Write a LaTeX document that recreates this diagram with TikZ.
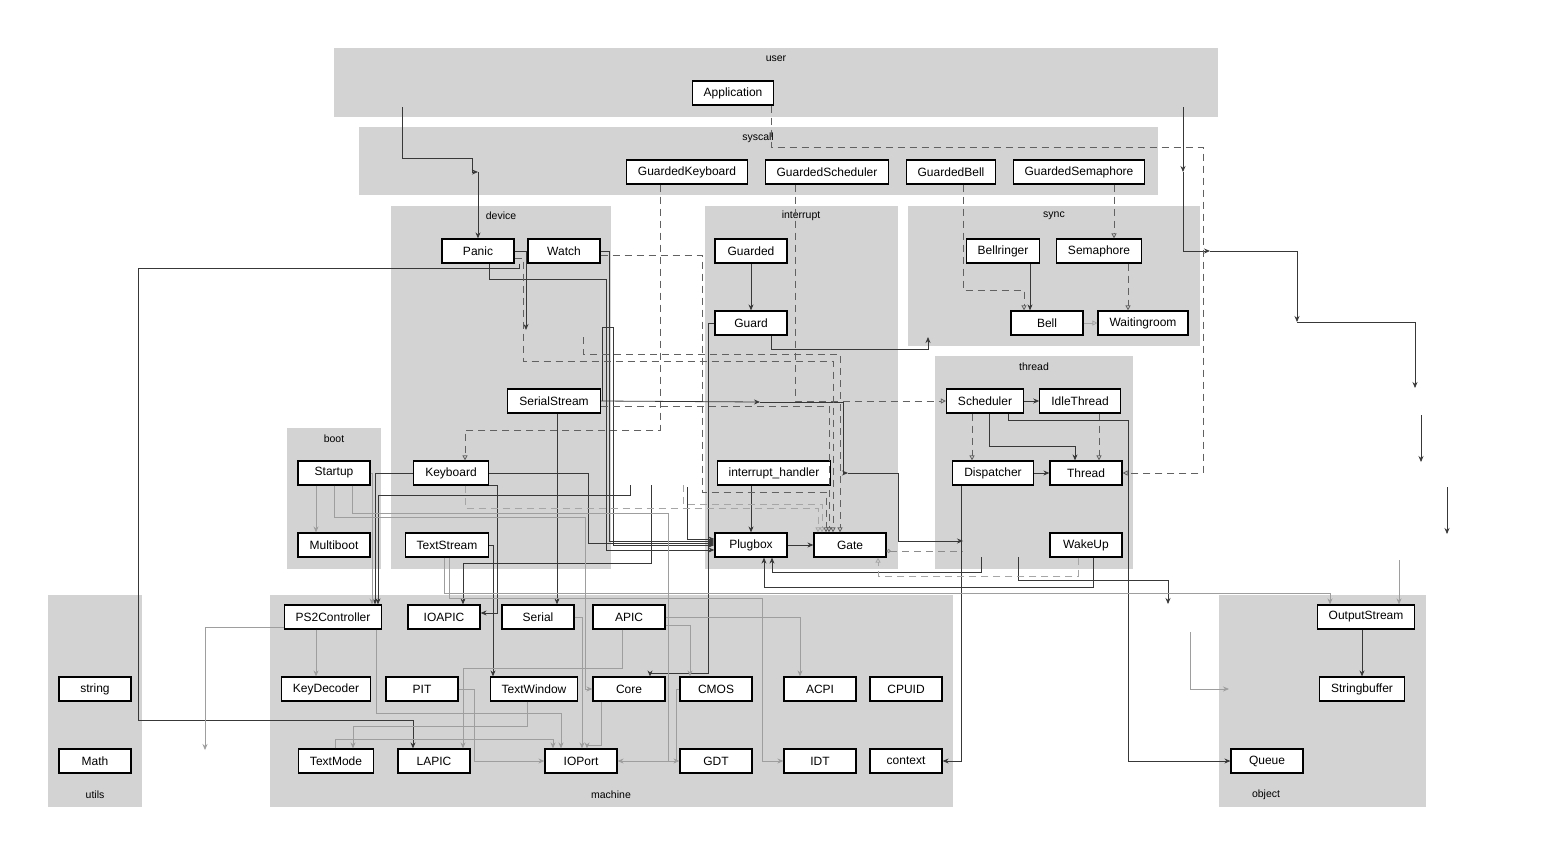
\documentclass[tikz,border=0pt]{standalone}
\usepackage{fontspec}
\setmainfont{Liberation Sans}
\usetikzlibrary{arrows.meta}
\definecolor{paketgrau}{HTML}{D3D3D3}

\begin{document}
\begin{tikzpicture}[x=1pt, y=-1pt,
    every node/.style={font=\fontsize{12}{14}\selectfont},
    klasse/.style={draw=black, line width=1.2pt, fill=white, minimum width=72pt, minimum height=24pt, inner xsep=11.5pt, inner ysep=0pt},
    paket/.style={fill=paketgrau},
    paketname/.style={font=\fontsize{10.5}{12}\selectfont},
    ref/.style={draw=black!78, line width=0.8pt, -{Stealth[length=6pt,width=5pt]}},
    grau/.style={draw=black!38, line width=0.8pt, -{Stealth[length=6pt,width=5pt]}},
    real/.style={draw=black!62, line width=0.8pt, dash pattern=on 7pt off 5pt, -{Triangle[open,length=5pt,width=5pt]}},
    realgrau/.style={real, draw=black!35}]

    % Hintergrund
    \fill[white] (0,0) rectangle (1565,857);
    \useasboundingbox (0,0) rectangle (1565,857);

    % Pakete
    \fill[paket] (334,48) rectangle (1218,117);
    \fill[paket] (359,127) rectangle (1158,195);
    \fill[paket] (391,206) rectangle (611,569);
    \fill[paket] (705,206) rectangle (898,569);
    \fill[paket] (908,206) rectangle (1200,346);
    \fill[paket] (935,356) rectangle (1133,569);
    \fill[paket] (287,428) rectangle (381,569);
    \fill[paket] (48,595) rectangle (142,807);
    \fill[paket] (270,595) rectangle (953,807);
    \fill[paket] (1219,595) rectangle (1426,807);

    \node[paketname] (puser) at (776,59) {user};
    \node[paketname] (psyscall) at (758,138) {syscall};
    \node[paketname] (pdevice) at (501,216) {device};
    \node[paketname] (pinterrupt) at (801,216) {interrupt};
    \node[paketname] (psync) at (1054,216) {sync};
    \node[paketname] (pthread) at (1034,367) {thread};
    \node[paketname] (pboot) at (334,439) {boot};
    \node[paketname] (putils) at (95,795) {utils};
    \node[paketname] (pmachine) at (611,795) {machine};
    \node[paketname] (pobject) at (1266,795) {object};

    % Klassen
    \node[klasse] (app) at (733,93) {Application};
    \node[klasse] (gkeyboard) at (687,172) {GuardedKeyboard};
    \node[klasse] (gscheduler) at (827,172) {GuardedScheduler};
    \node[klasse] (gbell) at (951,172) {GuardedBell};
    \node[klasse] (gsemaphore) at (1079,172) {GuardedSemaphore};
    \node[klasse] (panic) at (478,251) {Panic};
    \node[klasse] (watch) at (564,251) {Watch};
    \node[klasse] (guarded) at (751,251) {Guarded};
    \node[klasse] (bellringer) at (1003,251) {Bellringer};
    \node[klasse] (semaphore) at (1099,251) {Semaphore};
    \node[klasse] (guard) at (751,323) {Guard};
    \node[klasse] (bell) at (1047,323) {Bell};
    \node[klasse] (waitingroom) at (1143,323) {Waitingroom};
    \node[klasse] (serialstream) at (554,401) {SerialStream};
    \node[klasse] (scheduler) at (985,401) {Scheduler};
    \node[klasse] (idlethread) at (1080,401) {IdleThread};
    \node[klasse] (startup) at (334,473) {Startup};
    \node[klasse] (keyboard) at (451,473) {Keyboard};
    \node[klasse] (handler) at (774,473) {interrupt\_handler};
    \node[klasse] (dispatcher) at (993,473) {Dispatcher};
    \node[klasse] (thread) at (1086,473) {Thread};
    \node[klasse] (multiboot) at (334,545) {Multiboot};
    \node[klasse] (textstream) at (447,545) {TextStream};
    \node[klasse] (plugbox) at (751,545) {Plugbox};
    \node[klasse] (gate) at (850,545) {Gate};
    \node[klasse] (wakeup) at (1086,545) {WakeUp};
    \node[klasse] (ps2) at (333,617) {PS2Controller};
    \node[klasse] (ioapic) at (444,617) {IOAPIC};
    \node[klasse] (serial) at (538,617) {Serial};
    \node[klasse] (apic) at (629,617) {APIC};
    \node[klasse] (outputstream) at (1366,617) {OutputStream};
    \node[klasse] (string) at (95,689) {string};
    \node[klasse] (keydecoder) at (326,689) {KeyDecoder};
    \node[klasse] (pit) at (422,689) {PIT};
    \node[klasse] (textwindow) at (534,689) {TextWindow};
    \node[klasse] (core) at (629,689) {Core};
    \node[klasse] (cmos) at (716,689) {CMOS};
    \node[klasse] (acpi) at (820,689) {ACPI};
    \node[klasse] (cpuid) at (906,689) {CPUID};
    \node[klasse] (stringbuffer) at (1362,689) {Stringbuffer};
    \node[klasse] (math) at (95,761) {Math};
    \node[klasse] (textmode) at (336,761) {TextMode};
    \node[klasse] (lapic) at (434,761) {LAPIC};
    \node[klasse] (ioport) at (581,761) {IOPort};
    \node[klasse] (gdt) at (716,761) {GDT};
    \node[klasse] (idt) at (820,761) {IDT};
    \node[klasse] (context) at (906,761) {context};
    \node[klasse] (queue) at (1267,761) {Queue};

    % freie Enden
    \coordinate (uaus1) at (402,107);
    \coordinate (kpanic) at (478,172);
    \coordinate (uaus2) at (1183,107);
    \coordinate (kr1) at (1183,172);
    \coordinate (kr2) at (1210,251);
    \coordinate (kr3) at (1297,322);
    \coordinate (kr4) at (1415,388);
    \coordinate (kr5) at (1421,415);
    \coordinate (kr6) at (1421,462);
    \coordinate (kr7) at (1447,487);
    \coordinate (kr8) at (1447,534);
    \coordinate (kr9) at (1399,560);
    \coordinate (syncein) at (928,337);
    \coordinate (pfrei) at (526,330);
    \coordinate (sfrei1) at (760,402);
    \coordinate (sfrei2) at (848,473);
    \coordinate (tfrei1) at (963,541);
    \coordinate (tfrei2) at (963,551);
    \coordinate (tfrei3) at (981,557);
    \coordinate (tfrei4) at (1018,557);
    \coordinate (tfrei5) at (1168,604);
    \coordinate (kfrei1) at (630,485);
    \coordinate (kfrei2) at (651,485);
    \coordinate (kfrei3) at (687,487);
    \coordinate (dfrei1) at (583,337);
    \coordinate (dfrei2) at (683,485);
    \coordinate (ofrei1) at (1190,632);
    \coordinate (ofrei2) at (1229,689);
    \coordinate (mfrei) at (205,750);

    % user und rechte Kette
    \draw[ref] (uaus1) |- (472,158) |- (kpanic);
    \draw[ref] (kpanic) -- (panic.north);
    \draw[ref] (uaus2) -- (kr1);
    \draw[ref] (kr1) |- (kr2);
    \draw[ref] (kr2) -| (kr3);
    \draw[ref] (kr3) -| (kr4);
    \draw[ref] (kr5) -- (kr6);
    \draw[ref] (kr7) -- (kr8);
    \draw[grau] (kr9) -- (1399,0 |- outputstream.north);

    % syscall -> Implementierung (gestrichelt)
    \draw[real] (771,0 |- app.south) |- (1203,147) |- (thread.east);
    \draw[real] (660,0 |- gkeyboard.south) |- (465,430) -- (465,0 |- keyboard.north);
    \draw[real] (795,0 |- gscheduler.south) |- (scheduler.west);
    \draw[real] (963,0 |- gbell.south) |- (1024,290) -- (1024,0 |- bell.north);
    \draw[real] (1114,0 |- gsemaphore.south) -- (1114,0 |- semaphore.north);

    % sync
    \draw[ref] (1030,0 |- bellringer.south) -- (1030,0 |- bell.north);
    \draw[real] (1128,0 |- semaphore.south) -- (1128,0 |- waitingroom.north);
    \draw[realgrau, dash pattern=] (bell) -- (waitingroom);

    % interrupt
    \draw[ref] (guarded) -- (guard);
    \draw[ref] (771,0 |- guard.south) |- (928,349) -- (syncein);
    \draw[ref] (751,0 |- handler.south) -- (751,0 |- plugbox.north);
    \draw[ref] (plugbox) -- (gate);
    \draw[ref] (guard.west) -| (708,673) -| (650,0 |- core.north);

    % thread
    \draw[ref] (scheduler) -- (idlethread);
    \draw[real] (972,0 |- scheduler.south) -- (972,0 |- dispatcher.north);
    \draw[ref] (989,0 |- scheduler.south) |- (1075,446) -- (1075,0 |- thread.north);
    \draw[real] (1099,0 |- idlethread.south) -- (1099,0 |- thread.north);
    \draw[ref] (1008,0 |- scheduler.south) |- (1128,420) |- (queue.west);
    \draw[ref] (dispatcher) -- (thread);
    \draw[ref] (961,0 |- dispatcher.south) |- (context.east);
    \draw[ref] (1093,0 |- wakeup.south) |- (764,587) -- (764,0 |- plugbox.south);
    \draw[ref] (tfrei3) |- (772,572) -- (772,0 |- plugbox.south);
    \draw[ref] (tfrei4) |- (1168,580) -- (tfrei5);
    \draw[realgrau] (1078,0 |- wakeup.south) |- (878,576) -- (878,0 |- gate.south);
    \draw[draw=black!45, line width=0.8pt, dash pattern=on 7pt off 5pt, {Circle[open,length=4pt]}-] (gate.east |- 0,551) -- (tfrei2);

    % device
    \draw[ref] (panic.east) -| (pfrei);
    \draw[ref] (489,0 |- panic.south) |- (606,279) |- (plugbox.west |- 0,550);
    \draw[ref] (watch.east) -- (609,0 |- watch.east) |- (plugbox.west |- 0,541);
    \draw[ref] (519,0 |- watch.south) |- (138,268) |- (413,720) -- (413,0 |- lapic.north);
    \draw[ref] (602,0 |- serialstream.east) |- (613,327) |- (plugbox.west);
    \draw[ref] (serialstream.east) -- (sfrei1);
    \draw[ref] (sfrei1) -- (843,402) |- (sfrei2);
    \draw[ref] (sfrei2) -- (898,473) |- (tfrei1);
    \draw[ref] (557,0 |- serialstream.south) -- (557,0 |- serial.north);
    \draw[ref] (keyboard.east) -| (588,543) -- (plugbox.west |- 0,543);
    \draw[ref] (keyboard.south east) -| (497,613) -- (ioapic.east |- 0,613);
    \draw[ref] (keyboard.west) -| (375,0 |- ps2.north);
    \draw[ref] (kfrei1) |- (378,495) -- (378,0 |- ps2.north);
    \draw[ref] (kfrei2) |- (463,563) -- (463,0 |- ioapic.north);
    \draw[ref] (kfrei3) |- (plugbox.west |- 0,539);
    \draw[ref] (textstream.east) -| (493,0 |- textwindow.north);
    \draw[grau] (444,0 |- textstream.south) |- (1330,593) -- (1330,0 |- outputstream.north);
    \draw[grau] (449,0 |- textstream.south) |- (762,598) |- (idt.west);

    % gestrichelt zu Gate
    \draw[real] (panic.east |- 0,258) -| (523,361) -| (833,0 |- gate.north);
    \draw[real] (watch.east |- 0,255) -| (702,492) -| (826,0 |- gate.north);
    \draw[real] (dfrei1) |- (840,354) -- (840,0 |- gate.north);
    \draw[real] (serialstream.east |- 0,406) -| (829,0 |- gate.north);
    \draw[realgrau] (465,0 |- keyboard.south) |- (818,508) -- (818,0 |- gate.north);
    \draw[realgrau] (dfrei2) |- (822,504) -- (822,0 |- gate.north);

    % boot
    \draw[grau] (startup.east) -| (372,0 |- ps2.north);
    \draw[grau] (316,0 |- startup.south) -- (316,0 |- multiboot.north);
    \draw[grau] (334,0 |- startup.south) |- (585,517) |- (core.west);
    \draw[grau] (352,0 |- startup.south) |- (668,513) |- (gdt.west);

    % machine
    \draw[grau] (316,0 |- ps2.south) -- (316,0 |- keydecoder.north);
    \draw[grau] (ps2.west |- 0,627) -| (mfrei);
    \draw[grau] (376,0 |- ps2.south) |- (561,713) -- (561,0 |- ioport.north);
    \draw[grau] (527,0 |- textwindow.south) |- (353,726) -- (353,0 |- textmode.north);
    \draw[grau] (335,0 |- textmode.north) |- (553,739) -- (553,0 |- ioport.north);
    \draw[grau] (622,0 |- apic.south) |- (463,668) -- (463,0 |- lapic.north);
    \draw[grau] (pit.east) -| (474,761) -- (ioport.west);
    \draw[grau] (serial.east) -| (582,0 |- ioport.north);
    \draw[grau] (601,0 |- core.south) |- (587,745) -- (587,0 |- ioport.north);
    \draw[grau] (cmos.west) -- (676,0 |- cmos.west) |- (ioport.east);
    \draw[grau] (apic.east) -| (800,0 |- acpi.north);
    \draw[grau] (apic.east |- 0,625) -| (690,0 |- cmos.north);

    % object
    \draw[ref] (1362,0 |- outputstream.south) -- (1362,0 |- stringbuffer.north);
    \draw[grau] (ofrei1) |- (ofrei2);

\end{tikzpicture}
\end{document}
